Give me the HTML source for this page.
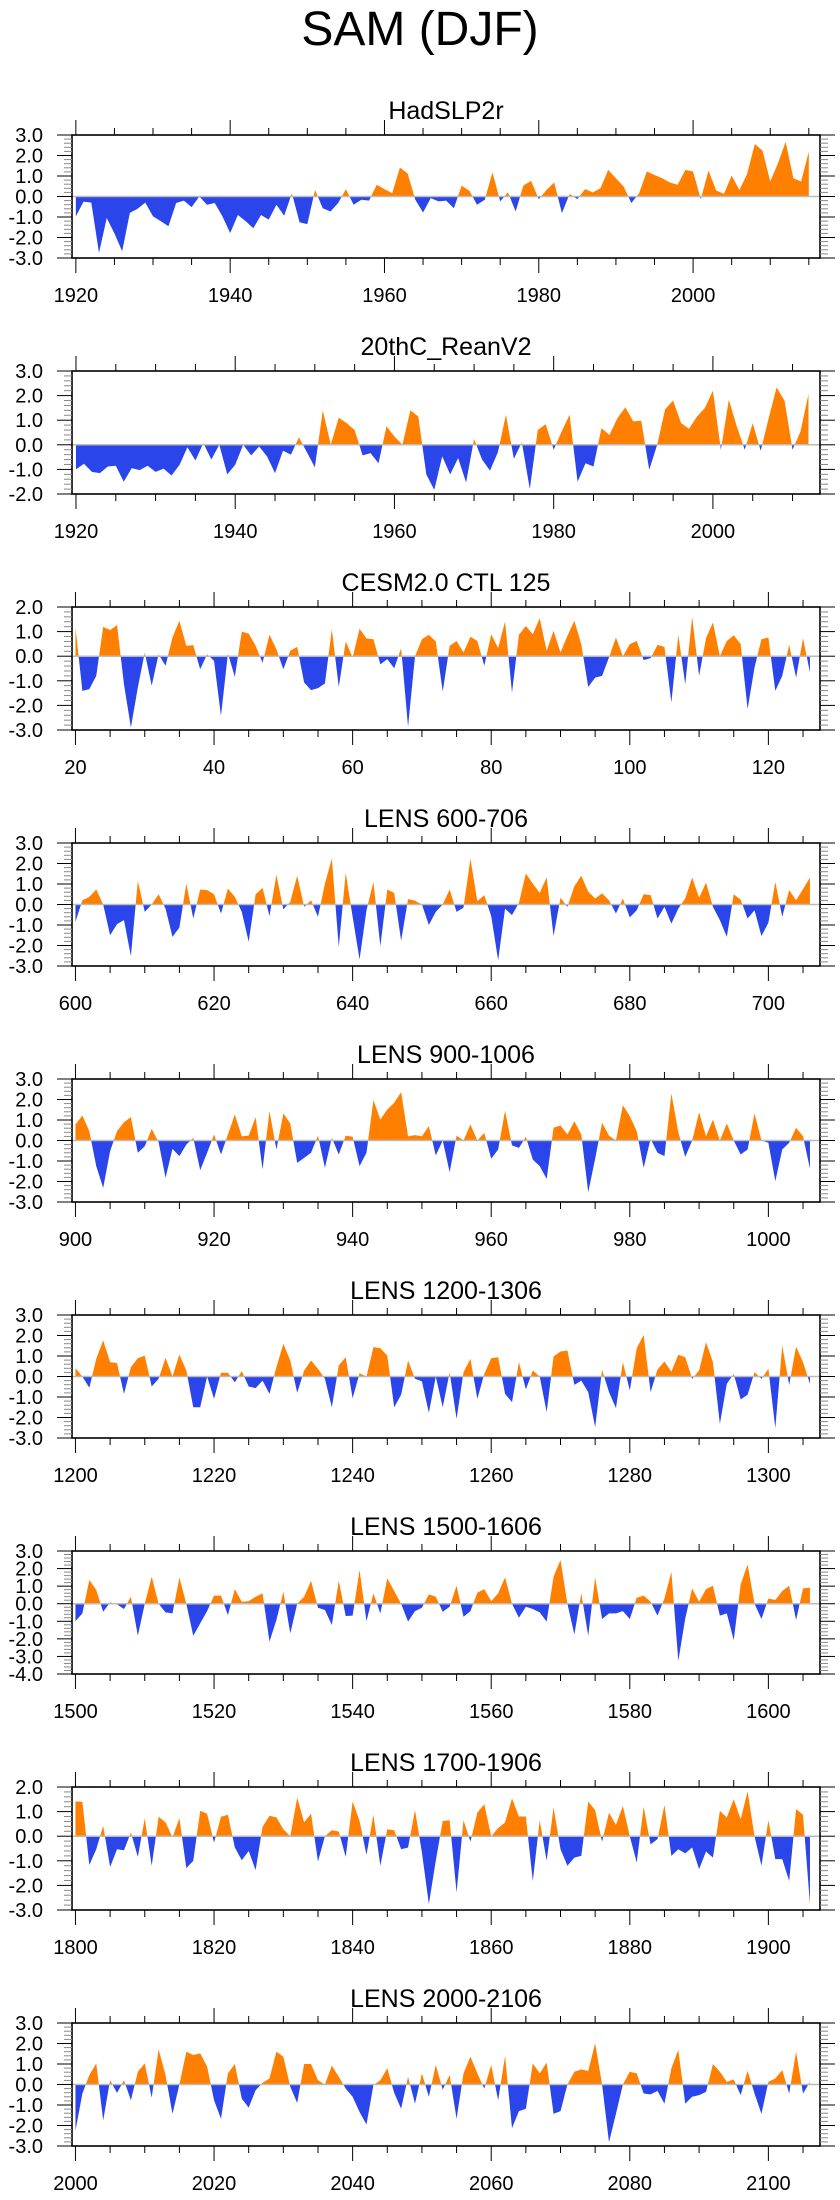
<!DOCTYPE html>
<html><head><meta charset="utf-8">
<style>
html,body{margin:0;padding:0;background:#fff;}
svg{display:block;font-family:"Liberation Sans",Arial,sans-serif;}
</style></head>
<body>
<svg id="chart" width="840" height="2200" viewBox="0 0 840 2200" xmlns="http://www.w3.org/2000/svg">
<rect x="0" y="0" width="840" height="2200" fill="#fff"/>
<text x="420" y="45" font-size="48" text-anchor="middle" fill="#000">SAM (DJF)</text>
</svg>
<script>
const titles = ["HadSLP2r","20thC_ReanV2","CESM2.0 CTL 125","LENS 600-706","LENS 900-1006","LENS 1200-1306","LENS 1500-1606","LENS 1700-1906","LENS 2000-2106"];
const startYears = [1920,1920,20,600,900,1200,1500,1800,2000];
const yMax = [3,3,2,3,3,3,3,2,3];
const yMin = [-3,-2,-3,-3,-3,-3,-4,-3,-3];

const s1 = [-0.97,-0.25,-0.3,-2.75,-1.05,-1.8,-2.67,-0.8,-0.6,-0.3,-0.97,-1.2,-1.45,-0.32,-0.2,-0.52,0,-0.4,-0.32,-0.97,-1.78,-0.9,-1.2,-1.55,-0.9,-1.13,-0.4,-0.94,0.16,-1.26,-1.35,0.32,-0.57,-0.73,-0.32,0.36,-0.4,-0.16,-0.2,0.57,0.36,0.16,1.41,1.13,-0.16,-0.78,-0.08,-0.24,-0.2,-0.57,0.53,0.28,-0.4,-0.16,1.18,-0.24,0.21,-0.73,0.53,0.76,-0.13,0.32,0.68,-0.81,0.13,-0.13,0.36,0.2,0.4,1.3,0.89,0.49,-0.32,0.16,1.22,1.05,0.89,0.68,0.57,1.3,1.22,-0.13,1.26,0.29,0.13,1.02,0.32,1.1,2.56,2.24,0.73,1.62,2.67,0.89,0.73,2.19];
const s2 = [-1.0,-0.77,-1.1,-1.15,-0.88,-0.85,-1.5,-0.95,-1.03,-0.85,-1.1,-0.97,-1.25,-0.82,-0.1,-0.64,0.07,-0.6,0.0,-1.2,-0.81,0.0,-0.43,-0.07,-0.47,-1.15,-0.24,-0.4,0.3,-0.3,-0.92,1.4,0.0,1.1,0.88,0.6,-0.43,-0.34,-0.75,0.75,0.34,0.0,1.4,1.15,-1.2,-1.83,-0.47,-1.2,-0.54,-1.53,0.24,-0.6,-1.05,-0.3,1.22,-0.57,0.1,-1.8,0.6,0.84,-0.2,0.54,1.22,-1.5,-0.75,-0.88,0.68,0.4,1.08,1.52,0.95,0.98,-1.02,0.0,1.45,1.8,0.88,0.65,1.15,1.5,2.2,-0.2,1.83,0.75,-0.2,0.88,-0.24,1.08,2.33,1.79,-0.2,0.54,2.06];
const s3 = [1.17,-1.41,-1.34,-0.8,1.19,1.06,1.27,-1.14,-2.9,-1.27,0.15,-1.2,0.08,-0.39,0.76,1.44,0.42,0.45,-0.53,0.08,-0.19,-2.43,0.11,-0.84,1.0,0.92,0.42,-0.26,0.87,0.28,-0.53,0.22,0.38,-1.07,-1.38,-1.3,-1.11,1.1,-1.25,0.6,-0.05,1.12,0.72,0.69,-0.33,-0.12,-0.49,0.33,-2.87,0,0.69,0.87,0.6,-1.44,0.42,0.62,0.15,0.79,0.62,-0.39,0.89,0.33,1.41,-1.48,0.87,1.23,0.89,1.54,0.22,1.03,0.15,0.83,1.44,0.49,-1.25,-0.87,-0.8,-0.05,0.76,0,0.49,0.62,-0.16,-0.08,0.46,0.38,-1.88,0.87,-1.14,1.6,-0.8,0.73,1.37,0,0.62,0.85,0.49,-2.15,-0.46,0.69,0.76,-1.41,-0.8,0.46,-0.87,0.73,-0.66];
const s4 = [-0.85,0.21,0.37,0.73,0,-1.5,-0.96,-0.76,-2.52,1.15,-0.36,0,0.5,-0.2,-1.58,-1.12,1.02,-0.68,0.73,0.7,0.5,-0.44,0.78,0.37,-0.36,-1.82,0.5,0.81,-0.57,1.46,-0.24,0.13,1.4,-0.11,0.21,-0.6,1.02,2.24,-2.07,1.54,-0.6,-2.68,-0.28,1.1,-2.03,0.73,0.57,-1.77,0.26,0.18,0,-1.0,-0.36,0,0.73,-0.36,-0.15,2.24,0.16,0.46,-0.57,-2.72,-0.2,-0.52,0.08,1.51,1.02,0.57,1.32,-1.53,0.33,-0.11,0.89,1.4,0.62,0.29,0.54,0.21,-0.44,0.29,-0.63,-0.28,0.5,0.46,-0.68,-0.11,-0.93,-0.2,0.29,1.32,0.33,1.07,-0.11,-0.76,-1.58,0.5,0.24,-0.68,-0.28,-1.54,-0.89,1.1,-0.6,0.7,0.21,0.75,1.32];
const s5 = [0.78,1.22,0.46,-1.25,-2.31,-0.52,0.46,0.89,1.14,-0.6,-0.28,0.57,-0.08,-1.82,-0.41,-0.76,-0.2,0.13,-1.45,-0.6,0.29,-0.68,0.29,1.27,0.21,0.24,1.14,-1.41,1.43,-0.44,1.32,0.83,-1.09,-0.85,-0.6,0.24,-1.33,0.13,-0.68,0.24,0.18,-1.25,-0.6,1.97,1.02,1.51,1.84,2.36,0.21,0.26,0.21,0.7,-0.73,0,-1.54,0.24,0,0.78,0,0.37,-0.89,-0.44,1.46,-0.24,-0.36,0.18,-0.93,-1.25,-1.87,0.62,0.73,0.29,0.94,0.29,-2.52,-0.89,0.86,0.24,0,1.72,1.19,0.46,-1.33,0.08,-0.6,-0.76,2.29,0.41,-0.8,0,1.38,0.21,1.02,0,0.83,0,-0.68,-0.44,1.32,0,-0.11,-1.98,-0.44,-0.11,0.62,0.21,-1.38];
const s6 = [0.41,0,-0.55,0.86,1.76,0.7,0.65,-0.85,0.46,0.89,1.02,-0.49,-0.11,0.91,0,1.07,0.29,-1.5,-1.5,0,-1.09,0.18,0.18,-0.28,0.26,-0.49,-0.57,-0.2,-0.85,0.46,1.59,0.78,-0.8,0.29,0.78,0.37,-0.11,-1.5,0.54,0.94,-1.06,0.16,0,1.43,1.38,1.02,-1.5,-0.89,0.78,-0.11,-0.24,-1.77,0,-1.5,0.21,-2.07,0.21,0.86,-1.09,0.13,0.89,0.94,-0.85,-1.25,0.7,-0.63,0.29,0,-1.74,0.98,1.22,1.27,-0.41,-0.2,-0.76,-2.47,0.33,-0.76,-1.54,0.7,-0.68,1.38,2.03,-0.76,0.34,0.73,0.24,1.06,0.94,-0.11,0.29,1.67,0.7,-2.31,-0.36,0.13,-1.12,-0.89,0.21,-0.11,0.37,-2.52,1.51,-0.41,1.46,0.7,-0.36];
const s7 = [-0.99,-0.55,1.35,0.78,-0.46,0.08,-0.04,-0.3,0.4,-1.82,0,1.54,0,-0.49,-0.55,1.48,0,-1.82,-1.12,-0.42,0.46,0.46,-0.65,0.83,0.11,0.15,0.4,0.59,-2.16,-0.93,0.68,-1.69,0,0.4,1.31,-0.23,-0.36,-1.21,1.31,-0.7,-0.68,1.92,-0.99,0.59,-0.55,1.44,0.72,0,-1.02,-0.42,-0.23,0.53,0.4,-0.46,-0.17,1.02,-0.74,-0.42,0.63,0.83,0.15,0.59,1.5,0,-0.8,-0.17,-0.3,-0.49,-1.02,1.54,2.49,0,-1.75,0.59,-1.82,1.5,-0.87,-0.55,-0.55,-0.42,-0.87,0.34,0.46,0.11,-0.68,0.3,1.82,-3.26,-0.84,0.87,0.11,0.83,1.02,-0.68,-0.55,-2.07,1.1,2.24,0,-0.87,0.3,0.21,0.72,1.02,-0.93,0.87,0.91];
const s8 = [1.41,1.4,-1.17,-0.53,0.42,-1.25,-0.53,-0.57,0.15,-0.84,0.73,-1.2,0.79,0.56,-0.05,0.73,-1.3,-1.0,1.03,0.92,-0.26,0.79,0.87,-0.46,-0.98,-0.6,-1.38,0.38,0.83,0.76,0.28,0,1.57,0.56,0.92,-1.03,0,0.24,0.19,-0.84,1.41,0.62,-0.76,0.87,-1.2,0.28,0.24,-0.53,-0.46,1.06,-0.66,-2.76,-1.0,0.62,0.65,-2.29,0.65,-0.22,0.96,1.3,0,0.33,0.56,1.54,0.8,0.8,-1.82,0.65,-1.0,1.17,-0.53,-1.2,-0.87,-0.8,1.41,1.06,-0.22,0.96,0.46,1.23,0,-1.07,1.19,-0.33,-0.12,1.27,-0.8,-0.53,-0.7,-0.46,-1.34,-0.62,-0.87,1.03,0.76,1.5,0.69,1.82,0,-1.2,0.65,-0.93,-0.93,-1.82,1.1,0.87,-2.76];
const s9 = [-2.25,-0.44,0.46,1.03,-1.75,0.21,-0.41,0.21,-0.77,0.62,1.03,-0.64,1.72,0.46,-1.43,0,1.6,1.44,1.52,0.87,-0.77,-1.67,0.54,1.0,-0.69,-1.13,-0.28,0.08,0.3,1.6,1.36,-0.11,-0.9,1.0,1.0,0.21,0,0.92,0.38,-0.2,-0.6,-1.34,-1.95,-0.03,0.21,0.79,-0.41,-1.18,0.38,-0.93,0.54,-0.6,0.95,-0.25,0.46,-1.67,0.54,1.36,0.54,-0.2,0.95,-0.77,1.39,-2.13,-1.3,-1.18,1.03,0.54,1.07,-1.43,-1.3,0,0.62,0.74,0.66,2.02,0,-2.82,-1.43,0,0.62,0.54,-0.44,-0.48,-0.31,-0.93,0.79,1.69,-0.93,-0.6,-0.52,-0.36,1.0,0.62,0.13,0.25,-0.52,0.67,-0.44,-1.43,0.13,0.3,0.7,-0.44,1.6,-0.44,0.13];
const seriesList = [s1,s2,s3,s4,s5,s6,s7,s8,s9];

const NS = "http://www.w3.org/2000/svg";
const svg = document.getElementById("chart");
function mk(tag, attrs, parent){
  const e = document.createElementNS(NS, tag);
  for (const k in attrs) e.setAttribute(k, attrs[k]);
  (parent||svg).appendChild(e);
  return e;
}
const L = 72, R = 820, H = 123, TOP0 = 135, STEP = 236;
const ORANGE = "#ff8000", BLUE = "#2a45ea";

seriesList.forEach((vals, p) => {
  const top = TOP0 + STEP*p, bot = top + H;
  const y0 = startYears[p], n = vals.length;
  const xmin = y0 - 0.5, xmax = y0 + n - 1 + 1.45;
  const xs = v => L + (v - xmin)/(xmax - xmin)*(R - L);
  const ys = v => top + (yMax[p] - v)/(yMax[p] - yMin[p])*H;
  const g = mk("g", {});
  
  

  const t = mk("text", {x: (L+R)/2, y: top-16, "font-size": 25, "text-anchor": "middle", fill: "#000"}, g);
  
  
  t.textContent = titles[p];

  const zy = ys(0);
  const cid = "cp" + p;
  const defs = mk("defs", {}, g);
  const c1 = mk("clipPath", {id: cid+"a"}, defs);
  mk("rect", {x: L, y: top, width: R-L, height: zy-top}, c1);
  const c2 = mk("clipPath", {id: cid+"b"}, defs);
  mk("rect", {x: L, y: zy, width: R-L, height: bot-zy}, c2);
  let d = "M" + xs(y0).toFixed(2) + "," + zy.toFixed(2);
  vals.forEach((v, i) => { d += " L" + xs(y0+i).toFixed(2) + "," + ys(v).toFixed(2); });
  d += " L" + xs(y0+n-1).toFixed(2) + "," + zy.toFixed(2) + " Z";
  const pa = mk("path", {d: d, fill: ORANGE, "clip-path": "url(#"+cid+"a)"}, g);
  
  
  const pb = mk("path", {d: d, fill: BLUE, "clip-path": "url(#"+cid+"b)"}, g);
  
  
  const zl = mk("line", {x1: L, x2: R, y1: zy, y2: zy, stroke: "#bbb", "stroke-width": 1.5}, g);
  
  

  const fr = mk("rect", {x: L, y: top, width: R-L, height: H, fill: "none", stroke: "#000", "stroke-width": 1.6}, g);
  
  

  // x ticks
  const firstTick = Math.ceil(xmin/5)*5;
  for (let yr = firstTick; yr <= xmax; yr += 5) {
    const x = xs(yr), major = (yr % 20 === 0);
    const len = major ? 15 : 7;
    mk("line", {x1: x, x2: x, y1: top, y2: top-len, stroke: "#000", "stroke-width": 1}, g);
    mk("line", {x1: x, x2: x, y1: bot, y2: bot+len, stroke: "#000", "stroke-width": 1}, g);
    if (major) {
      const lb = mk("text", {x: x, y: bot+44, "font-size": 20, "text-anchor": "middle", fill: "#000"}, g);
      
      
      lb.textContent = String(yr);
    }
  }
  // y ticks
  for (let k = Math.round(yMin[p]*5); k <= Math.round(yMax[p]*5); k++) {
    const v = k/5, y = ys(v), major = (k % 5 === 0);
    const len = major ? 15 : 8;
    const col = major ? "#000" : "#888";
    mk("line", {x1: L, x2: L-len, y1: y, y2: y, stroke: col, "stroke-width": 1}, g);
    mk("line", {x1: R, x2: R+len, y1: y, y2: y, stroke: col, "stroke-width": 1}, g);
    if (major) {
      const lb = mk("text", {x: 43, y: y+7, "font-size": 20, "text-anchor": "end", fill: "#000"}, g);
      
      
      lb.textContent = v.toFixed(1);
    }
  }
});
</script>
</body></html>
